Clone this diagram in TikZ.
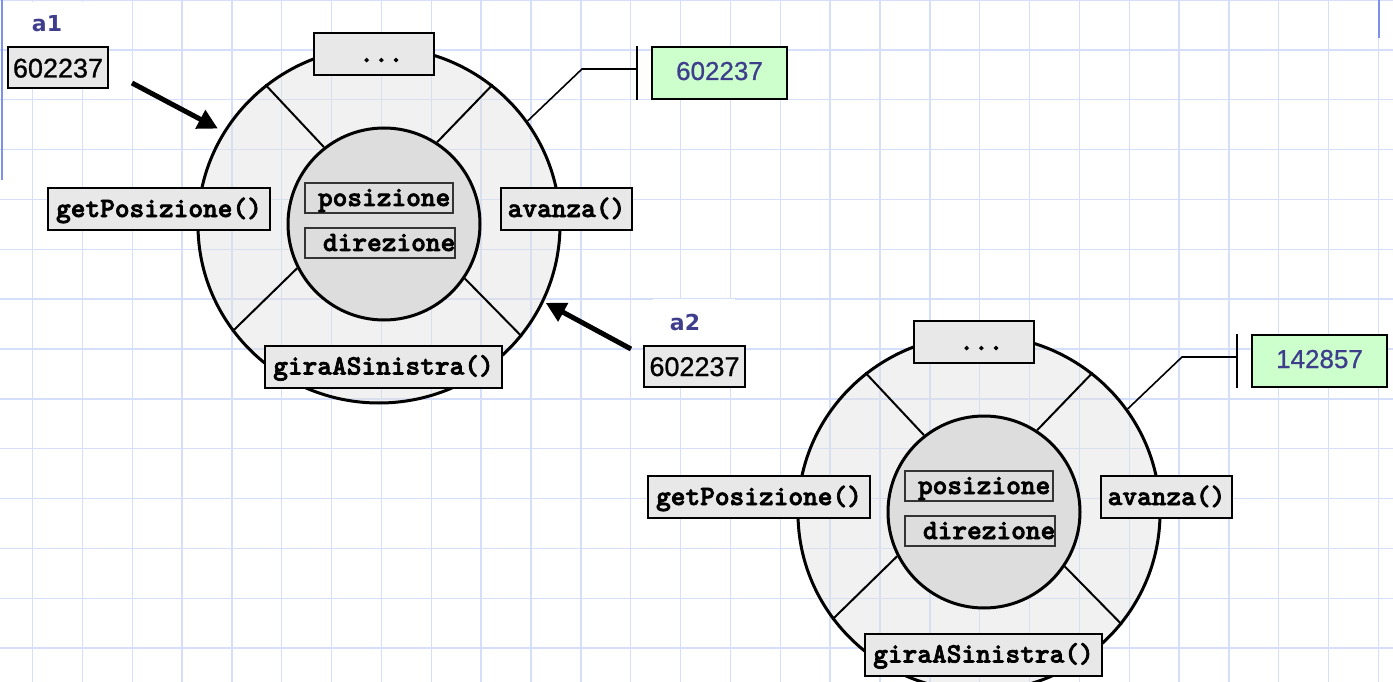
\documentclass[tikz,border=0pt]{standalone}
\usepackage{fontspec}
\setmainfont{Liberation Sans}
\newfontfamily\tagfont{DejaVu Sans}
\newfontfamily\codefont{lmmonolt10-bold.otf}[FakeBold=2.5]
\newfontfamily\numfont{Liberation Sans}[FakeBold=0.8]
\usepackage{tikz}
\usetikzlibrary{arrows.meta, shapes.geometric, positioning}
\definecolor{colorGrid}{RGB}{213,222,250}
\definecolor{colorMargin}{RGB}{125,145,235}
\definecolor{colorLabel}{RGB}{62,62,140}
\definecolor{colorValue}{RGB}{204,255,204}
\definecolor{colorBody}{RGB}{226,226,226}
\definecolor{colorCore}{RGB}{221,221,221}
\definecolor{colorMethod}{RGB}{232,232,232}

\begin{document}
\begin{tikzpicture}[x=1pt, y=-1pt,
  gridline/.style={colorGrid, line width=1.4pt},
  body/.style={ellipse, draw, line width=3pt, fill=colorBody, fill opacity=0.45, minimum width=362pt, minimum height=356pt, inner sep=0pt},
  core/.style={ellipse, draw, line width=3pt, fill=colorCore, minimum width=192pt, minimum height=192pt, inner sep=0pt},
  spoke/.style={line width=2pt},
  method/.style={draw, line width=2pt, fill=colorMethod, inner sep=0pt, minimum height=42pt, font=\codefont\fontsize{28}{28}\selectfont, text height=19pt, text depth=3pt},
  field/.style={draw=black!80, line width=1.3pt, inner sep=0pt, minimum height=30pt, font=\codefont\fontsize{28}{28}\selectfont, text height=19pt, text depth=3pt},
  ref/.style={draw, line width=2pt, fill=colorMethod, inner sep=0pt, minimum height=41pt, font=\numfont\fontsize{27}{27}\selectfont, text height=20pt, text depth=0pt},
  value/.style={draw, line width=2pt, fill=colorValue, inner sep=0pt, minimum width=135pt, minimum height=52pt, text=colorLabel, font=\numfont\fontsize{26}{26}\selectfont, text height=18pt, text depth=4pt},
  tag/.style={inner sep=0pt, text=colorLabel, font=\tagfont\bfseries\fontsize{22}{22}\selectfont},
  ptr/.style={line width=5pt, -{Triangle[length=20pt, width=20pt]}},
  link/.style={line width=1.6pt}]
\useasboundingbox (0,0) rectangle (1393,682);
\fill[white] (0,0) rectangle (1393,682);
\foreach \k in {0,...,27} \draw[gridline] (32.5+49.85*\k,0) -- (32.5+49.85*\k,682);
\foreach \k in {0,...,13} \draw[gridline] (0,49.85*\k) -- (1393,49.85*\k);
\fill[white] (10,2) rectangle (110,46);
\fill[white] (653,299) rectangle (735,345);
\draw[colorMargin, line width=2pt] (2,0) -- (2,180);
\draw[colorMargin, line width=2pt] (1378.5,0) -- (1378.5,38);

\node[body] (o1) at (379,225) {};
\node[core] (c1) at (384,224) {};
\draw[spoke] (c1.128) -- (o1.129);
\draw[spoke] (c1.57) -- (o1.51);
\draw[spoke] (c1.207) -- (o1.216);
\draw[spoke] (c1.326) -- (o1.322);
\node[method, minimum width=120pt] (e1) at (374,54) {\ ...};
\node[method, minimum width=222pt] (gp1) at (159,209) {getPosizione()};
\node[method, minimum width=131pt] (av1) at (566.5,209) {avanza()};
\node[method, minimum width=237pt] (gs1) at (383.5,366.5) {giraASinistra()};
\node[field, minimum width=148pt] (p1) at (379,198) {\makebox[148pt][l]{\hspace{13pt}posizione}};
\node[field, minimum width=150pt] (dr1) at (380,243) {\makebox[150pt][l]{\hspace{18pt}direzione}};
\node[value] (val1) at (719.5,73) {602237\hspace{13pt}};
\coordinate (k1) at (582,69);
\coordinate (b1) at (637,69);
\draw[link] (o1.35) -- (k1) -- (b1);
\draw[link] (b1 |- val1.north) -- (b1 |- val1.south);

\node[body] (o2) at (979,513) {};
\node[core] (c2) at (984,512) {};
\draw[spoke] (c2.128) -- (o2.129);
\draw[spoke] (c2.57) -- (o2.51);
\draw[spoke] (c2.207) -- (o2.216);
\draw[spoke] (c2.326) -- (o2.322);
\node[method, minimum width=120pt] (e2) at (974,342) {\ ...};
\node[method, minimum width=222pt] (gp2) at (759,497) {getPosizione()};
\node[method, minimum width=131pt] (av2) at (1166.5,497) {avanza()};
\node[method, minimum width=237pt] (gs2) at (983.5,654.5) {giraASinistra()};
\node[field, minimum width=148pt] (p2) at (979,486) {\makebox[148pt][l]{\hspace{13pt}posizione}};
\node[field, minimum width=150pt] (dr2) at (980,531) {\makebox[150pt][l]{\hspace{18pt}direzione}};
\node[value] (val2) at (1319.5,361) {142857\hspace{13pt}};
\coordinate (k2) at (1182,357);
\coordinate (b2) at (1237,357);
\draw[link] (o2.35) -- (k2) -- (b2);
\draw[link] (b2 |- val2.north) -- (b2 |- val2.south);

\node[ref, minimum width=100pt] (r1) at (58,67.5) {602237};
\node[tag, above=14pt of r1, xshift=-11pt] (t1) {a1};
\node[ref, minimum width=101pt] (r2) at (694.5,366) {602237};
\node[tag, above=13pt of r2, xshift=-9.5pt] (t2) {a2};
\coordinate (s1) at (132,83);
\coordinate (s2) at (631,349);
\draw[ptr, shorten >=6pt] (s1) -- (o1.149);
\draw[ptr, shorten >=2pt] (s2) -- (o1.-25);
\end{tikzpicture}
\end{document}
